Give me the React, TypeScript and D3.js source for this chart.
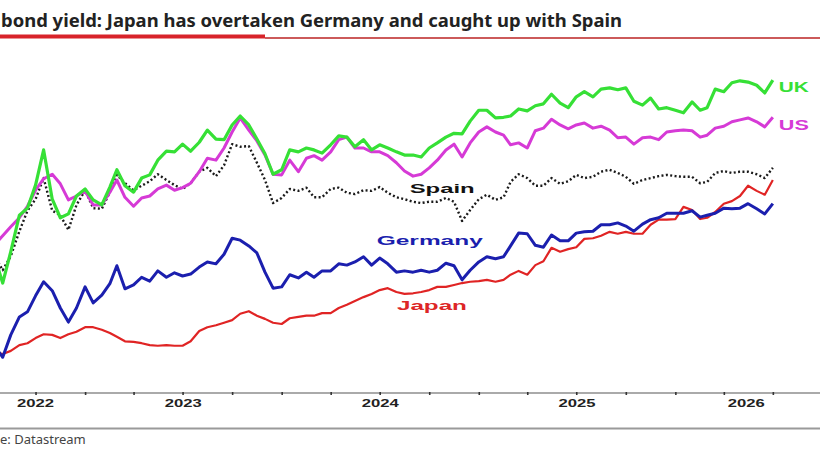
import { useEffect, useRef } from 'react';
import * as d3 from 'd3';

// semi-monthly observations, 16 Jul 2022 .. 1 Jul 2026
const N_OBS = 96;
const obsDates = d3.range(N_OBS).map(
  (i) => new Date(Date.UTC(2022, 6 + Math.ceil(i / 2), i % 2 === 0 ? 16 : 1))
);

const yearLabels = [2022, 2023, 2024, 2025, 2026];

// yields, %
const uk = [2.58,2.14,2.63,3.20,3.31,3.67,4.22,3.45,3.16,3.22,
  3.50,3.61,3.44,3.36,3.64,3.91,3.66,3.56,3.78,3.83,
  4.06,4.20,4.19,4.31,4.20,4.34,4.53,4.39,4.38,4.61,
  4.75,4.61,4.39,4.16,3.84,3.91,4.22,4.19,4.25,4.22,
  4.17,4.30,4.44,4.42,4.27,4.38,4.22,4.30,4.25,4.19,
  4.14,4.14,4.11,4.25,4.33,4.42,4.48,4.47,4.67,4.84,
  4.84,4.72,4.73,4.75,4.86,4.83,4.91,4.94,5.09,4.95,
  4.88,5.05,5.13,5.05,5.17,5.19,5.16,5.19,4.98,4.92,
  5.03,4.86,4.88,4.84,4.80,4.97,4.84,4.88,5.17,5.13,
  5.27,5.30,5.28,5.23,5.11,5.31];

const us = [2.73,2.88,3.02,3.16,3.34,3.59,3.77,3.84,3.69,3.44,
  3.50,3.58,3.36,3.36,3.56,3.75,3.48,3.34,3.47,3.50,
  3.61,3.67,3.59,3.63,3.70,3.88,4.09,4.06,4.25,4.50,
  4.72,4.53,4.36,4.14,3.84,3.83,4.06,3.88,4.09,4.13,
  4.06,4.19,4.38,4.42,4.25,4.25,4.19,4.19,4.13,4.02,
  3.89,3.81,3.84,3.94,4.06,4.22,4.31,4.11,4.33,4.50,
  4.58,4.50,4.45,4.30,4.33,4.25,4.52,4.56,4.70,4.61,
  4.55,4.61,4.64,4.56,4.59,4.53,4.41,4.42,4.31,4.41,
  4.42,4.38,4.50,4.52,4.53,4.52,4.42,4.45,4.56,4.59,
  4.66,4.69,4.72,4.66,4.58,4.73];

const spain = [2.58,2.34,2.56,2.95,3.27,3.45,3.78,3.27,3.20,2.97,
  3.36,3.59,3.31,3.30,3.56,3.83,3.70,3.59,3.66,3.73,
  3.84,3.75,3.67,3.61,3.70,3.88,3.94,3.81,3.98,4.31,
  4.27,4.28,4.02,3.75,3.39,3.47,3.61,3.58,3.63,3.48,
  3.48,3.61,3.63,3.55,3.53,3.59,3.58,3.64,3.55,3.48,
  3.45,3.41,3.39,3.41,3.41,3.47,3.41,3.11,3.28,3.45,
  3.52,3.44,3.48,3.72,3.84,3.78,3.66,3.66,3.78,3.69,
  3.73,3.83,3.78,3.80,3.88,3.91,3.86,3.80,3.69,3.75,
  3.78,3.81,3.83,3.81,3.80,3.80,3.70,3.72,3.86,3.89,
  3.86,3.88,3.88,3.84,3.78,3.94];

const germany = [1.17,0.98,1.33,1.61,1.69,1.94,2.16,2.02,1.75,1.53,
  1.75,2.08,1.83,1.95,2.13,2.41,2.05,2.11,2.23,2.17,
  2.33,2.23,2.30,2.25,2.28,2.39,2.47,2.44,2.59,2.84,
  2.81,2.72,2.61,2.31,2.06,2.08,2.27,2.22,2.31,2.23,
  2.33,2.33,2.44,2.42,2.47,2.55,2.42,2.53,2.44,2.31,
  2.33,2.31,2.34,2.31,2.34,2.45,2.41,2.19,2.34,2.47,
  2.55,2.52,2.55,2.72,2.92,2.91,2.73,2.70,2.89,2.80,
  2.80,2.92,2.94,2.95,3.05,3.05,3.08,3.03,2.95,3.06,
  3.13,3.16,3.23,3.23,3.23,3.27,3.17,3.20,3.23,3.31,
  3.30,3.31,3.38,3.30,3.22,3.38];

const japan = [1.06,1.03,1.08,1.17,1.20,1.28,1.34,1.33,1.28,1.34,
  1.38,1.45,1.45,1.41,1.36,1.30,1.23,1.22,1.20,1.17,
  1.16,1.17,1.16,1.16,1.23,1.39,1.45,1.48,1.52,1.56,
  1.66,1.70,1.63,1.58,1.52,1.50,1.59,1.61,1.63,1.63,
  1.67,1.67,1.75,1.80,1.86,1.92,1.97,2.03,2.06,2.00,
  1.97,1.98,2.00,2.03,2.08,2.08,2.11,2.14,2.16,2.17,
  2.19,2.16,2.19,2.27,2.33,2.27,2.42,2.48,2.69,2.63,
  2.67,2.70,2.83,2.84,2.88,2.94,2.91,2.94,2.91,2.91,
  3.05,3.13,3.13,3.14,3.33,3.28,3.14,3.16,3.25,3.38,
  3.42,3.50,3.66,3.58,3.52,3.75];

// label anchors for the names written inside the plot
const inlineLabels = [
  { name: 'Spain', date: '2024-10-25', value: 3.55, color: '#111', len: 65 },
  { name: 'Germany', date: '2024-10-02', value: 2.73, color: '#1b1fae', len: 106 },
  { name: 'Japan', date: '2024-10-06', value: 1.72, color: '#dd2626', len: 70 },
];

const series = [
  { name: 'Japan', values: japan, color: '#e02424', width: 2.2, dash: null },
  { name: 'Germany', values: germany, color: '#1b1fae', width: 3, dash: null },
  { name: 'Spain', values: spain, color: '#1a1a1a', width: 2.4, dash: '2,2.4' },
  { name: 'US', values: us, color: '#d63ad6', width: 3, dash: null },
  { name: 'UK', values: uk, color: '#36e036', width: 3.2, dash: null },
];

const App = () => {
  const svgRef = useRef(null);

  useEffect(() => {
    const svg = d3.select(svgRef.current);
    svg.selectAll('*').remove();

    const xScale = d3.scaleUtc()
      .domain([new Date(Date.UTC(2022, 6, 1)), new Date(Date.UTC(2026, 8, 21))])
      .range([-14, 817]);
    const yScale = d3.scaleLinear().domain([0, 6]).range([420, 36]);

    svg.append('rect').attr('width', 820).attr('height', 460).attr('fill', '#fff');

    // title + red rule
    svg.append('text')
      .attr('x', 1).attr('y', 27)
      .attr('font-family', '"Noto Sans", sans-serif')
      .attr('font-weight', 700).attr('font-size', 17).attr('fill', '#222')
      .attr('textLength', 621).attr('lengthAdjust', 'spacingAndGlyphs')
      .text('bond yield: Japan has overtaken Germany and caught up with Spain');
    svg.append('line')
      .attr('x1', 265).attr('x2', 820).attr('y1', 38).attr('y2', 38)
      .attr('stroke', '#cc5a5a').attr('stroke-width', 2);
    svg.append('rect')
      .attr('x', 0).attr('y', 34.5).attr('width', 265).attr('height', 4)
      .attr('fill', '#d8232a');

    // x axis
    svg.append('line')
      .attr('x1', 0).attr('x2', 820).attr('y1', 393).attr('y2', 393)
      .attr('stroke', '#aaa').attr('stroke-width', 1.8);
    const gx = svg.append('g').attr('transform', 'translate(0,392)')
      .call(d3.axisBottom(xScale)
        .ticks(d3.utcMonth.every(3))
        .tickSizeInner(3).tickSizeOuter(0)
        .tickFormat(() => ''));
    gx.select('.domain').remove();
    gx.selectAll('.tick line').attr('stroke', '#333').attr('stroke-width', 1.6);

    const [d0, d1] = xScale.domain();
    yearLabels.forEach((yr) => {
      const a = new Date(Math.max(+d0, Date.UTC(yr, 0, 1)));
      const b = new Date(Math.min(+d1, Date.UTC(yr + 1, 0, 1)));
      svg.append('text')
        .attr('x', (xScale(a) + xScale(b)) / 2).attr('y', 407)
        .attr('text-anchor', 'middle')
        .attr('font-family', '"Liberation Sans", Arial, sans-serif')
        .attr('font-weight', 700).attr('font-size', 11).attr('fill', '#222')
        .attr('textLength', 37).attr('lengthAdjust', 'spacingAndGlyphs')
        .text(String(yr));
    });

    svg.append('line')
      .attr('x1', 0).attr('x2', 820).attr('y1', 428.5).attr('y2', 428.5)
      .attr('stroke', '#9a9a9a').attr('stroke-width', 2);

    svg.append('text')
      .attr('x', 0).attr('y', 444)
      .attr('font-family', '"Noto Sans", sans-serif')
      .attr('font-size', 13).attr('fill', '#444')
      .text('e: Datastream');

    // lines
    const line = d3.line<number>()
      .x((_, i) => xScale(obsDates[i]))
      .y((d) => yScale(d));

    series.forEach((s) => {
      svg.append('path')
        .datum(s.values)
        .attr('fill', 'none')
        .attr('stroke', s.color)
        .attr('stroke-width', s.width)
        .attr('stroke-linejoin', 'round')
        .attr('stroke-dasharray', s.dash)
        .attr('d', line);
    });

    // end labels
    const lastDate = obsDates[N_OBS - 1];
    [{ name: 'UK', values: uk, color: '#36e036', dy: 12 },
     { name: 'US', values: us, color: '#d63ad6', dy: 13 }].forEach((s) => {
      svg.append('text')
        .attr('x', xScale(lastDate) + 6)
        .attr('y', yScale(s.values[N_OBS - 1]) + s.dy)
        .attr('font-family', '"Liberation Sans", Arial, sans-serif')
        .attr('font-weight', 700).attr('font-size', 14).attr('fill', s.color)
        .attr('textLength', 30).attr('lengthAdjust', 'spacingAndGlyphs')
        .text(s.name);
    });

    inlineLabels.forEach((l) => {
      svg.append('text')
        .attr('x', xScale(new Date(l.date)))
        .attr('y', yScale(l.value))
        .attr('text-anchor', 'middle')
        .attr('font-family', '"Liberation Sans", Arial, sans-serif')
        .attr('font-weight', 700).attr('font-size', 13).attr('fill', l.color)
        .attr('textLength', l.len).attr('lengthAdjust', 'spacingAndGlyphs')
        .text(l.name);
    });
  }, []);

  return (
    <svg
      ref={svgRef}
      width={820}
      height={460}
      style={{ position: 'absolute', left: 0, top: 0, display: 'block' }}
    />
  );
};

export default App;
